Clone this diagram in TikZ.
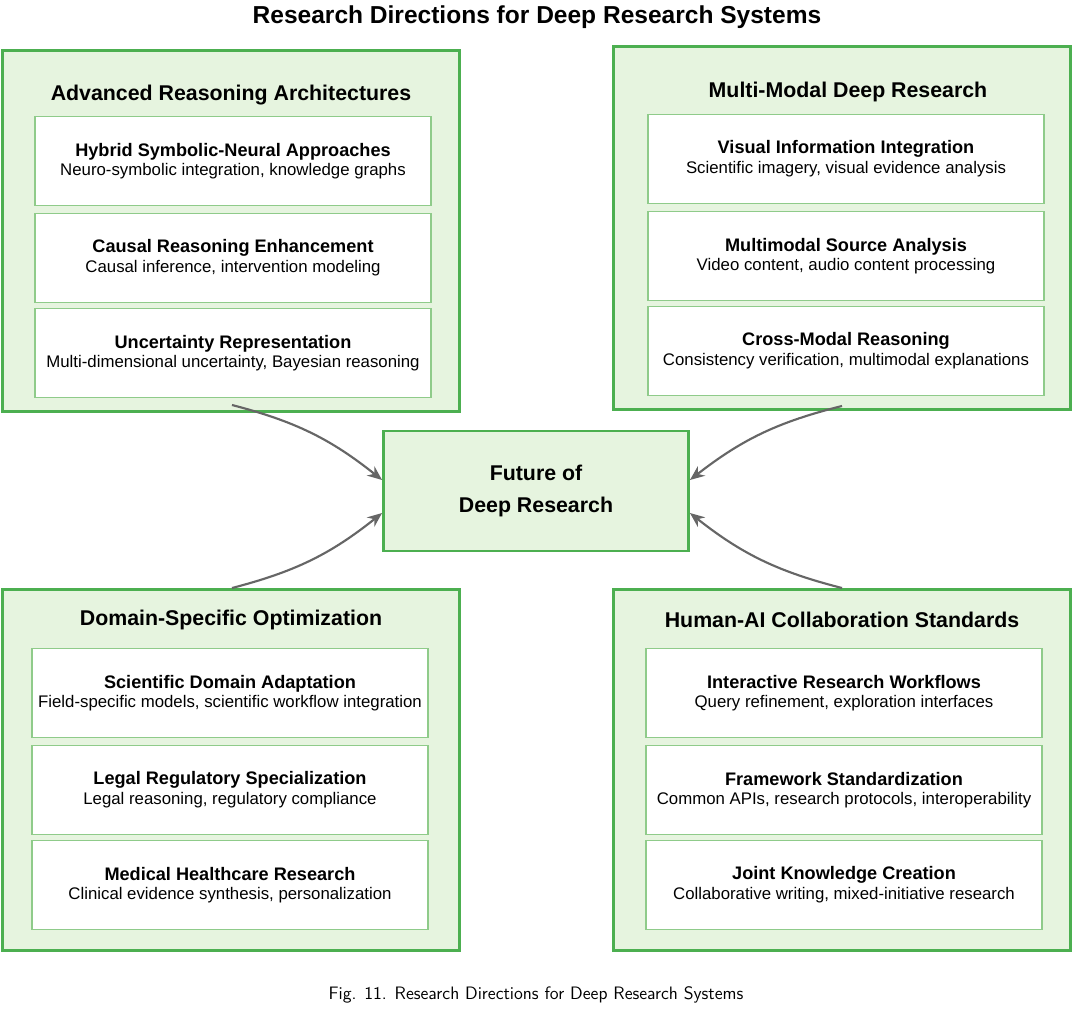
\documentclass[tikz,border=0pt]{standalone}
\usepackage{fontspec}
\setmainfont{Liberation Sans}
\newfontfamily\capfont{Latin Modern Sans}
\usetikzlibrary{arrows.meta}
\definecolor{gfill}{HTML}{E6F4DF}
\definecolor{gline}{HTML}{4CAF50}
\definecolor{iline}{HTML}{8FCB8A}
\definecolor{arr}{HTML}{666666}
\begin{document}
\begin{tikzpicture}[x=0.75pt,y=-0.75pt,
 outer/.style={draw=gline,line width=1.9pt,fill=gfill,rectangle},
 inner/.style={draw=iline,line width=1pt,fill=white,rectangle,minimum width=297pt,minimum height=67pt,align=center,inner sep=0pt},
 otitle/.style={font=\fontsize{16}{19}\selectfont\bfseries},
 conn/.style={draw=arr,line width=1.6pt,-{Stealth[length=11pt,width=9pt]}}]
\useasboundingbox (0,0) rectangle (1080,1009);
\node[font=\fontsize{18.4}{22}\selectfont\bfseries] (title) at (537,17) {Research Directions for Deep Research Systems};
\newcommand{\ib}[4]{\node[inner] (#1) at #2 {{\fontsize{13.6}{16}\selectfont\bfseries #3}\\[2pt]{\fontsize{12.6}{15}\selectfont #4}};}
% top-left
\node[outer,minimum width=343pt,minimum height=271pt] (tl) at (231,231) {};
\node[otitle] (tlt) at (231,95) {Advanced Reasoning Architectures};
\ib{tl1}{(233,161)}{Hybrid Symbolic-Neural Approaches}{Neuro-symbolic integration, knowledge graphs}
\ib{tl2}{(233,258)}{Causal Reasoning Enhancement}{Causal inference, intervention modeling}
\ib{tl3}{(233,353)}{Uncertainty Representation}{Multi-dimensional uncertainty, Bayesian reasoning}
% top-right
\node[outer,minimum width=343pt,minimum height=272pt] (tr) at (842,228) {};
\node[otitle] (trt) at (848,92) {Multi-Modal Deep Research};
\ib{tr1}{(846,159)}{Visual Information Integration}{Scientific imagery, visual evidence analysis}
\ib{tr2}{(846,256)}{Multimodal Source Analysis}{Video content, audio content processing}
\ib{tr3}{(846,351)}{Cross-Modal Reasoning}{Consistency verification, multimodal explanations}
% bottom-left
\node[outer,minimum width=343pt,minimum height=271pt] (bl) at (231,770) {};
\node[otitle] (blt) at (231,620) {Domain-Specific Optimization};
\ib{bl1}{(230,693)}{Scientific Domain Adaptation}{Field-specific models, scientific workflow integration}
\ib{bl2}{(230,790)}{Legal Regulatory Specialization}{Legal reasoning, regulatory compliance}
\ib{bl3}{(230,885)}{Medical Healthcare Research}{Clinical evidence synthesis, personalization}
% bottom-right
\node[outer,minimum width=343pt,minimum height=271pt] (br) at (842,770) {};
\node[otitle] (brt) at (842,620) {Human-AI Collaboration Standards};
\ib{br1}{(844,693)}{Interactive Research Workflows}{Query refinement, exploration interfaces}
\ib{br2}{(844,790)}{Framework Standardization}{Common APIs, research protocols, interoperability}
\ib{br3}{(844,885)}{Joint Knowledge Creation}{Collaborative writing, mixed-initiative research}
% center
\node[outer,minimum width=229pt,minimum height=90pt,align=center,font=\fontsize{16}{24}\selectfont\bfseries] (c) at (536,491) {Future of\\Deep Research};
\coordinate (a1) at (232,405); \coordinate (a2) at (842,406);
\coordinate (a3) at (232,588); \coordinate (a4) at (842,588);
\draw[conn] (a1) to[bend left=12] (c.west|-0,480);
\draw[conn] (a2) to[bend right=12] (c.east|-0,480);
\draw[conn] (a3) to[bend right=12] (c.west|-0,513);
\draw[conn] (a4) to[bend left=12] (c.east|-0,513);
\node[font=\capfont\fontsize{13.5}{16}\selectfont] (cap) at (536,995) {Fig. 11. Research Directions for Deep Research Systems};
\end{tikzpicture}
\end{document}
